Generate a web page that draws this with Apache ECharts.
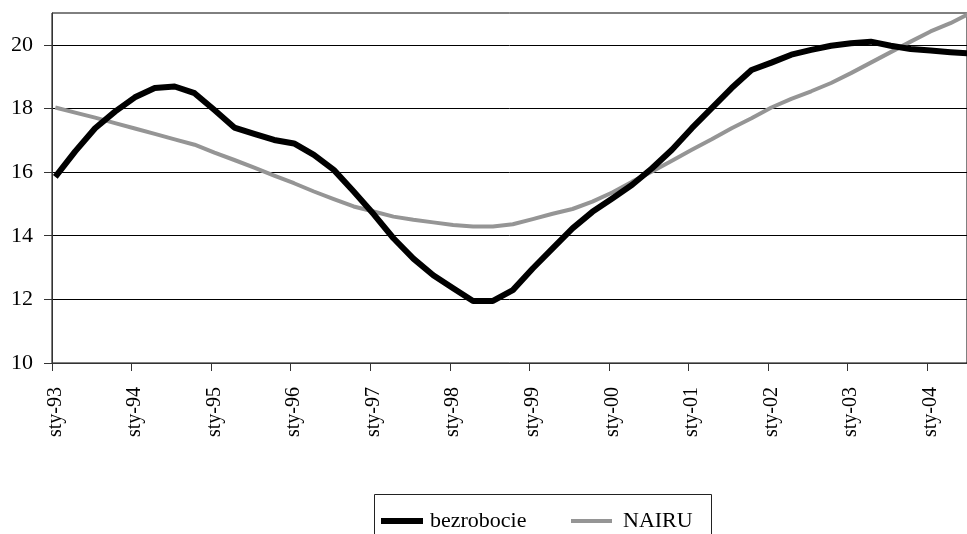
<!DOCTYPE html>
<html><head><meta charset="utf-8">
<script src="https://cdn.jsdelivr.net/npm/echarts@6/dist/echarts.min.js"></script>
<style>html,body{margin:0;padding:0;background:#fff}#c{width:967px;height:534px}</style>
</head><body><div id="c"></div>
<script>
// Year tick labels (one per January)
const yearLabels = ['sty-93','sty-94','sty-95','sty-96','sty-97','sty-98','sty-99','sty-00','sty-01','sty-02','sty-03','sty-04'];
// Quarterly observations, 1993 Q1 .. 2004 Q3
const quarters = ['1993-01','1993-04','1993-07','1993-10','1994-01','1994-04','1994-07','1994-10',
  '1995-01','1995-04','1995-07','1995-10','1996-01','1996-04','1996-07','1996-10',
  '1997-01','1997-04','1997-07','1997-10','1998-01','1998-04','1998-07','1998-10',
  '1999-01','1999-04','1999-07','1999-10','2000-01','2000-04','2000-07','2000-10',
  '2001-01','2001-04','2001-07','2001-10','2002-01','2002-04','2002-07','2002-10',
  '2003-01','2003-04','2003-07','2003-10','2004-01','2004-04','2004-07'];
const bezrobocie = [15.85,16.65,17.38,17.9,18.35,18.64,18.69,18.48,
  17.95,17.4,17.2,17.01,16.9,16.54,16.07,15.39,
  14.68,13.92,13.28,12.76,12.35,11.95,11.95,12.29,
  12.97,13.6,14.23,14.75,15.17,15.6,16.12,16.7,
  17.38,18.01,18.64,19.21,19.44,19.69,19.84,19.97,
  20.05,20.1,19.97,19.87,19.82,19.77,19.73];
const nairu = [18.03,17.87,17.71,17.54,17.37,17.2,17.03,16.86,
  16.61,16.38,16.14,15.89,15.65,15.39,15.15,14.92,
  14.76,14.6,14.5,14.42,14.34,14.29,14.29,14.36,
  14.52,14.69,14.84,15.07,15.36,15.7,16.02,16.36,
  16.7,17.03,17.38,17.69,18.03,18.3,18.54,18.8,
  19.11,19.44,19.77,20.1,20.42,20.68,21.0];
const yTicks = [10,12,14,16,18,20];

const FONT = '"Liberation Serif","Times New Roman",serif';
const START = 1993;
function monthPos(q) { // centre of the month bucket, months since Jan 1993
  const [y, m] = q.split('-').map(Number);
  return (y - START) * 12 + (m - 1) + 0.5;
}
const xTicks = yearLabels.map((_, i) => i * 12);
const xLabelPos = yearLabels.map((_, i) => i * 12 + 0.5);

const chart = echarts.init(document.getElementById('c'), null, {renderer: 'canvas'});
chart.setOption({
  animation: false,
  backgroundColor: '#fff',
  grid: {left: 52, top: 13, right: 0, bottom: 171, show: true, borderColor: '#000', borderWidth: 1},
  xAxis: {
    type: 'value', min: 0, max: 138, interval: 12,
    axisLine: {show: true, lineStyle: {color: '#333', width: 1}},
    axisTick: {show: true, length: 8, customValues: xTicks, lineStyle: {color: '#333'}},
    axisLabel: {customValues: xLabelPos, rotate: 90, margin: 24, color: '#000',
      fontFamily: FONT, fontSize: 20,
      formatter: v => yearLabels[Math.floor(v / 12)] || ''},
    splitLine: {show: false}
  },
  yAxis: {
    type: 'value', min: 10, max: 21, interval: 2,
    axisLine: {show: true, lineStyle: {color: '#333', width: 1}},
    axisTick: {show: true, length: 8, customValues: yTicks, lineStyle: {color: '#333'}},
    axisLabel: {customValues: yTicks, margin: 19, color: '#000', fontFamily: FONT, fontSize: 22},
    splitLine: {show: true, lineStyle: {color: '#000', width: 1}}
  },
  legend: [
    {data: ['bezrobocie'], left: 381, top: 510, padding: 0, icon: 'rect', itemWidth: 42, itemHeight: 6,
     itemGap: 0, textStyle: {fontFamily: FONT, fontSize: 22, color: '#000', padding: [0, 0, 0, 2]}},
    {data: ['NAIRU'], left: 571, top: 510, padding: 0, icon: 'rect', itemWidth: 41, itemHeight: 4,
     itemGap: 0, textStyle: {fontFamily: FONT, fontSize: 22, color: '#000', padding: [0, 0, 0, 6]}}
  ],
  graphic: [{type: 'rect', left: 372, top: 492, shape: {width: 337, height: 80},
    style: {fill: 'none', stroke: '#222', lineWidth: 1}, silent: true}],
  series: [
    {name: 'bezrobocie', type: 'line', showSymbol: false, clip: true, z: 3,
     lineStyle: {color: '#000', width: 6, join: 'round'}, itemStyle: {color: '#000'},
     data: quarters.map((q, i) => [monthPos(q), bezrobocie[i]])},
    {name: 'NAIRU', type: 'line', showSymbol: false, clip: true, z: 2,
     lineStyle: {color: '#959595', width: 4, join: 'round'}, itemStyle: {color: '#959595'},
     data: quarters.map((q, i) => [monthPos(q), nairu[i]])}
  ]
});
</script></body></html>
